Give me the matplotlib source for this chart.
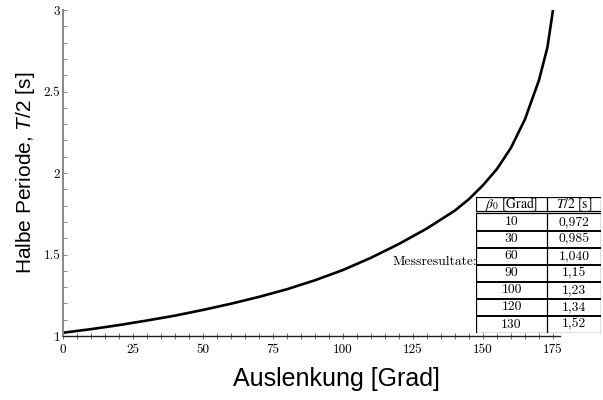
import matplotlib
matplotlib.use("Agg")
import matplotlib.pyplot as plt
from matplotlib.ticker import MultipleLocator, FuncFormatter

# curve
winkel = [0, 10, 20, 30, 40, 50, 60, 70, 80, 90, 100, 110, 120, 130,
          140, 145, 150, 155, 160, 165, 170, 173, 175]
halbe_periode = [1.02, 1.042, 1.067, 1.095, 1.125, 1.16, 1.198, 1.24, 1.287,
                 1.342, 1.405, 1.48, 1.565, 1.66, 1.77, 1.84, 1.925, 2.025,
                 2.155, 2.33, 2.57, 2.77, 3.0]

# measurement table
beta0 = ["10", "30", "60", "90", "100", "120", "130"]
t_halb = ["0,972", "0,985", "1,040", "1,15", "1,23", "1,34", "1,52"]
kopf = [r"$\beta_0\ \mathrm{[Grad]}$", r"$T/2\ \mathrm{[s]}$"]

plt.rcParams['mathtext.fontset'] = 'custom'
plt.rcParams['mathtext.it'] = 'Liberation Sans:italic'
plt.rcParams['mathtext.rm'] = 'Liberation Sans'

W, H = 603, 400
fig = plt.figure(figsize=(W / 100, H / 100), dpi=100)
ax = fig.add_axes([63 / W, 1 - 336 / H, 497 / W, 326 / H])

ax.plot(winkel, halbe_periode, color='black', lw=1.9, solid_capstyle='round',
        solid_joinstyle='round')
ax.set_xlim(0, 177.5)
ax.set_ylim(1, 3)

for s in ['top', 'right']:
    ax.spines[s].set_visible(False)
ax.spines['left'].set_color('#888888')
ax.spines['left'].set_linewidth(1.4)
ax.spines['bottom'].set_color('#222222')
ax.spines['bottom'].set_linewidth(1.0)

ax.xaxis.set_major_locator(MultipleLocator(25))
ax.xaxis.set_minor_locator(MultipleLocator(5))
ax.yaxis.set_major_locator(MultipleLocator(0.5))
ax.yaxis.set_minor_locator(MultipleLocator(0.1))
ax.yaxis.set_major_formatter(FuncFormatter(lambda v, p: '%g' % v))
ax.tick_params(axis='x', which='both', direction='inout', length=4, width=0.6,
               color='#555555', pad=4)
ax.tick_params(axis='y', which='both', direction='in', length=3, width=0.6,
               color='#777777', pad=2)
for lab in ax.get_xticklabels() + ax.get_yticklabels():
    lab.set_fontfamily('cmr10')
    lab.set_fontsize(9.5)

ax.set_xlabel('Auslenkung [Grad]', fontsize=18, family='Liberation Sans')
ax.xaxis.set_label_coords((336 - 63) / 497, -31 / 326)
ax.set_ylabel('Halbe Periode, $T/2$ [s]', fontsize=15,
              family='Liberation Sans', labelpad=5)

# table drawn in its own axes
tab = fig.add_axes([476 / W, 1 - 333 / H, 125 / W, 136 / H])
tab.set_xlim(0, 125)
tab.set_ylim(136, 0)
tab.axis('off')
xs = [0, 71, 125]
lw = 0.9
fs = 9.8
# header
tab.plot([0, 125, 125, 0, 0], [0, 0, 14, 14, 0], color='black', lw=lw)
tab.plot([71, 71], [0, 14], color='black', lw=lw)
for j, t in enumerate(kopf):
    tab.text((xs[j] + xs[j + 1]) / 2, 7.5, t, ha='center', va='center',
             fontsize=fs, math_fontfamily='stix')
# rows
y0 = 16.5
rh = (136 - y0) / len(beta0)
tab.plot([0, 125, 125, 0, 0], [y0, y0, 136, 136, y0], color='black', lw=lw)
tab.plot([71, 71], [y0, 136], color='black', lw=lw)
for i, (b, t) in enumerate(zip(beta0, t_halb)):
    yc = y0 + rh * (i + 0.5)
    if i > 0:
        tab.plot([0, 125], [y0 + rh * i] * 2, color='black', lw=1.4)
    tab.text(35.5, yc, b, ha='center', va='center', fontsize=fs, family='cmr10')
    tab.text(98, yc, t, ha='center', va='center', fontsize=fs, family='cmr10')

fig.text(477 / W, 1 - 262 / H, 'Messresultate:', ha='right', va='center',
         fontsize=fs, family='cmr10')

fig.savefig('out.png', dpi=100)
